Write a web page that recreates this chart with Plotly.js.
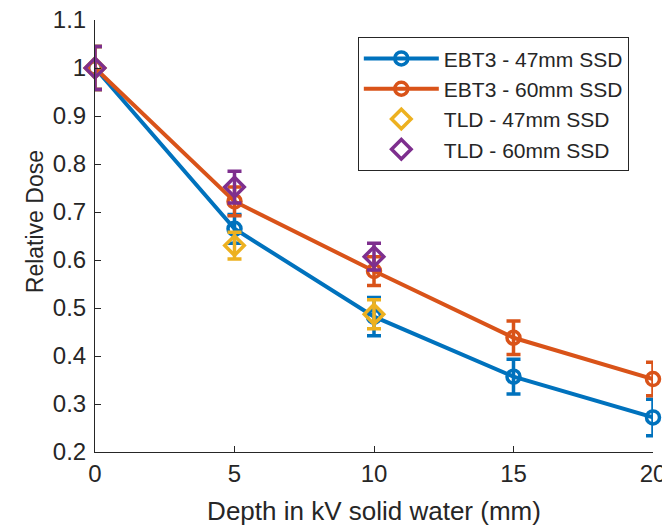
<!DOCTYPE html>
<html>
<head>
<meta charset="utf-8">
<script src="https://cdn.plot.ly/plotly-3.0.1.min.js"></script>
<style>html,body{margin:0;padding:0;background:#fff;}#chart{width:662px;height:526px;}</style>
</head>
<body>
<div id="chart"></div>
<script>
// Data
const depth = [0, 5, 10, 15, 20];
const ebt3_47 = [1.0, 0.665, 0.482, 0.357, 0.272];
const ebt3_47_err = [0.045, 0.03, 0.04, 0.036, 0.038];
const ebt3_60 = [1.0, 0.722, 0.577, 0.438, 0.352];
const ebt3_60_err = [0.045, 0.03, 0.03, 0.035, 0.035];
const tldDepth = [0, 5, 10];
const tld_47 = [1.0, 0.63, 0.487];
const tld_47_err = [0.045, 0.028, 0.03];
const tld_60 = [1.0, 0.752, 0.607];
const tld_60_err = [0.045, 0.033, 0.028];
const xTicks = [0, 5, 10, 15, 20];
const xTickText = ['0', '5', '10', '15', '20'];
const yTicks = [0.2, 0.3, 0.4, 0.5, 0.6, 0.7, 0.8, 0.9, 1.0, 1.1];
const yTickText = ['0.2', '0.3', '0.4', '0.5', '0.6', '0.7', '0.8', '0.9', '1', '1.1'];
const names = ['EBT3 - 47mm SSD', 'EBT3 - 60mm SSD', 'TLD - 47mm SSD', 'TLD - 60mm SSD'];
const colors = ['#0072BD', '#D95319', '#EDB120', '#7E2F8E'];
const xTitle = 'Depth in kV solid water (mm)';
const yTitle = 'Relative Dose';

function tr(x, y, err, i, mode, symbol, size) {
  return {
    x: x, y: y, name: names[i], mode: mode, type: 'scatter',
    legendgroup: 'g' + i,
    cliponaxis: false,
    line: {color: colors[i], width: 4},
    marker: {symbol: symbol, size: size, color: colors[i], line: {color: colors[i], width: 3.5}},
    error_y: {type: 'data', array: err, visible: true, color: colors[i], thickness: 3.5, width: 7}
  };
}

const data = [
  tr(depth, ebt3_47, ebt3_47_err, 0, 'lines+markers', 'circle-open', 13),
  tr(depth, ebt3_60, ebt3_60_err, 1, 'lines+markers', 'circle-open', 13),
  tr(tldDepth, tld_47, tld_47_err, 2, 'markers', 'diamond-open', 15),
  tr(tldDepth, tld_60, tld_60_err, 3, 'markers', 'diamond-open', 15)
];

const font = {family: 'Liberation Sans, Arial, sans-serif', color: '#262626'};
const layout = {
  width: 662, height: 526,
  margin: {l: 95, r: 9, t: 20, b: 74},
  paper_bgcolor: '#fff', plot_bgcolor: '#fff',
  font: Object.assign({size: 21}, font),
  showlegend: true,
  legend: {
    x: 0.471, y: 0.96, xanchor: 'left', yanchor: 'top',
    bordercolor: '#262626', borderwidth: 1, bgcolor: '#fff',
    font: Object.assign({size: 21}, font),
    itemwidth: 75, tracegroupgap: 0, traceorder: 'grouped'
  },
  xaxis: {
    range: [0, 20], tickvals: xTicks, ticktext: xTickText,
    showgrid: false, zeroline: false, showline: true, linecolor: '#262626', linewidth: 1,
    ticks: 'inside', ticklen: 6, tickcolor: '#262626', ticklabeloverflow: 'allow',
    tickfont: Object.assign({size: 24}, font),
    title: {text: xTitle, font: Object.assign({size: 26}, font), standoff: 16}
  },
  yaxis: {
    range: [0.2, 1.1], tickvals: yTicks, ticktext: yTickText,
    showgrid: false, zeroline: false, showline: true, linecolor: '#262626', linewidth: 1,
    ticks: 'inside', ticklen: 6, tickcolor: '#262626', ticklabeloverflow: 'allow',
    ticklabelstandoff: 3,
    tickfont: Object.assign({size: 24}, font)
  },
  annotations: [{
    text: yTitle, textangle: -90, showarrow: false,
    xref: 'paper', yref: 'paper', x: -0.1075, y: 0.532,
    xanchor: 'center', yanchor: 'middle',
    font: Object.assign({size: 23}, font)
  }]
};

Plotly.newPlot('chart', data, layout, {displayModeBar: false, staticPlot: true});
</script>
</body>
</html>
